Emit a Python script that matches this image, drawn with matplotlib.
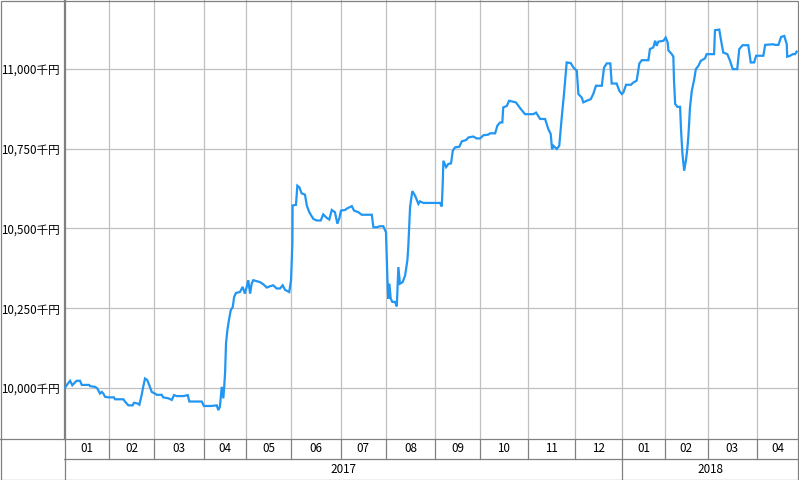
import matplotlib
matplotlib.use("Agg")
import matplotlib.pyplot as plt
import numpy as np
from matplotlib.patches import Rectangle

plt.rcParams['font.family'] = ['Noto Sans CJK JP', 'DejaVu Sans']

# trading days per month (x axis is in trading days)
month_labels = ['01', '02', '03', '04', '05', '06', '07', '08', '09', '10', '11', '12',
                '01', '02', '03', '04']
month_days = [20, 20, 22, 19, 20, 22, 20, 22, 20, 21, 21, 21, 19, 19, 22, 18.2]
year_labels = ['2017', '2018']
year_months = [12, 4]

yticks = [10000, 10250, 10500, 10750, 11000]

# balance (千円), x = trading-day index
day = [0.4, 1.5, 2.7, 3.7, 5.6, 7.1, 7.9, 11.2, 11.6, 13.8, 14.8, 16.0, 16.8, 17.5, 18.2,
       19.7, 22.2, 22.7, 26.4, 27.1, 28.6, 30.5, 31.1, 32.6, 33.5, 34.5, 35.2, 36.0, 37.0,
       37.9, 39.0, 40.4, 41.2, 43.4, 44.1, 46.4, 47.9, 48.9, 50.1, 53.0, 55.0, 55.7, 61.2,
       62.2, 65.6, 67.9, 68.6, 69.3, 70.1, 70.8, 71.2, 71.6, 72.0, 72.6, 73.3, 74.1, 75.0,
       75.6, 76.4, 78.2, 79.4, 80.4, 81.2, 81.9, 82.7, 83.4, 84.1, 87.1, 88.6, 90.1, 91.6,
       93.0, 94.5, 96.0, 97.2, 98.2, 100.1, 100.9, 101.5, 101.6, 103.1, 103.7, 104.6, 105.6,
       107.1, 107.9, 109.0, 110.8, 112.3, 114.1, 115.2, 116.8, 117.9, 119.0, 120.4, 121.5,
       122.4, 123.1, 124.9, 125.9, 127.9, 128.9, 130.8, 132.3, 136.8, 137.5, 139.2, 140.4,
       141.9, 143.1, 143.4, 143.7, 144.1, 144.6, 145.2, 145.9, 147.1, 147.9, 148.6, 149.3,
       150.5, 151.6, 152.6, 153.0, 153.8, 154.8, 156.0, 157.5, 158.2, 159.7, 167.1, 167.9,
       168.3, 168.6, 169.8, 170.8, 172.0, 172.8, 173.8, 175.7, 176.8, 178.7, 179.7, 181.9,
       183.4, 184.9, 186.4, 188.6, 189.3, 191.6, 192.6, 193.8, 194.8, 195.2, 196.8, 197.8,
       200.8, 202.7, 204.9, 208.6, 209.8, 211.6, 213.8, 215.2, 216.3, 216.9, 217.5, 219.0,
       220.1, 221.2, 222.2, 223.4, 225.2, 226.4, 227.9, 228.6, 230.1, 230.8, 232.3, 234.1,
       235.2, 236.4, 239.0, 240.0, 241.2, 242.8, 243.4, 245.6, 246.8, 247.9, 248.6, 249.8,
       251.9, 253.0, 254.5, 255.7, 256.8, 259.7, 260.4, 261.9, 262.7, 263.4, 264.1, 266.4,
       267.4, 268.3, 268.6, 270.1, 270.8, 271.1, 271.6, 272.6, 273.8, 274.2, 274.8, 275.6,
       276.4, 277.0, 277.5, 278.2, 279.0, 280.1, 280.8, 281.9, 283.0, 284.9, 285.6, 288.9,
       289.3, 291.2, 292.3, 293.0, 294.8, 296.0, 297.2, 299.2, 300.1, 301.6, 304.1, 305.2,
       306.7, 307.6, 310.8, 311.6, 315.2, 316.0, 317.5, 318.7, 320.1, 321.2, 321.4, 322.7,
       323.9, 324.9, 325.6]
balance = [10001, 10012, 10023, 10009, 10023, 10023, 10010, 10010, 10006, 10004, 9999, 9983,
           9988, 9983, 9973, 9971, 9971, 9965, 9965, 9958, 9946, 9946, 9954, 9952, 9948, 9978,
           10004, 10030, 10025, 10009, 9988, 9983, 9979, 9979, 9971, 9968, 9963, 9978, 9975,
           9975, 9978, 9958, 9958, 9944, 9944, 9946, 9931, 9942, 10004, 9968, 10004, 10051,
           10140, 10181, 10213, 10244, 10254, 10285, 10298, 10301, 10317, 10296, 10317, 10338,
           10296, 10327, 10338, 10332, 10325, 10315, 10319, 10322, 10312, 10312, 10322, 10308,
           10301, 10338, 10452, 10572, 10574, 10634, 10629, 10610, 10606, 10572, 10551, 10530,
           10525, 10525, 10544, 10533, 10528, 10558, 10551, 10515, 10533, 10556, 10558, 10563,
           10570, 10556, 10551, 10543, 10543, 10504, 10504, 10507, 10507, 10488, 10421, 10348,
           10280, 10327, 10280, 10270, 10270, 10256, 10379, 10327, 10332, 10353, 10400, 10442,
           10567, 10617, 10603, 10577, 10585, 10580, 10580, 10569, 10640, 10712, 10692, 10702,
           10704, 10744, 10754, 10756, 10773, 10777, 10785, 10788, 10782, 10782, 10792, 10794,
           10798, 10798, 10822, 10832, 10832, 10879, 10884, 10900, 10895, 10877, 10858, 10858,
           10863, 10843, 10843, 10812, 10796, 10748, 10759, 10749, 10759, 10848, 10921, 11020,
           11018, 11004, 10994, 10921, 10910, 10895, 10900, 10905, 10921, 10947, 10947, 11004,
           11017, 11017, 10954, 10954, 10931, 10921, 10926, 10950, 10950, 10957, 10963, 11017,
           11027, 11027, 11062, 11067, 11088, 11072, 11085, 11088, 11098, 11082, 11058, 11046,
           11038, 10963, 10890, 10881, 10881, 10812, 10738, 10681, 10713, 10749, 10791, 10879,
           10931, 10968, 10999, 11009, 11025, 11033, 11046, 11046, 11121, 11123, 11077, 11051,
           11046, 11025, 10999, 10999, 11062, 11074, 11074, 11020, 11020, 11041, 11041, 11075,
           11077, 11075, 11075, 11100, 11103, 11077, 11038, 11041, 11046, 11046, 11054]

W, H = 799, 480
grid_c = '#c0c0c0'
frame_c = '#808080'
line_c = '#2196f3'
lw_thin = 0.9
fs = 8.4

fig = plt.figure(figsize=(W / 100, H / 100), dpi=100, facecolor='white')

# main plot area
ax = fig.add_axes([64 / W, 41 / H, 734 / W, 439 / H])
bounds = np.concatenate([[0], np.cumsum(month_days)])
ax.set_xlim(0, bounds[-1])
ax.set_ylim(9840.6, 11215.6)

for b in bounds[1:-1]:
    ax.axvline(b, color=grid_c, lw=lw_thin, zorder=1)
for v in yticks:
    ax.axhline(v, color=grid_c, lw=lw_thin, zorder=1)

ax.plot(day, balance, color=line_c, lw=1.6, zorder=3, solid_joinstyle='miter')

ax.set_xticks([])
ax.set_yticks(yticks)
ax.set_yticklabels([f'{v:,}千円' for v in yticks], fontsize=fs)
ax.tick_params(axis='y', length=0, pad=3)
for s in ['top', 'right']:
    ax.spines[s].set_visible(False)
ax.spines['left'].set_color(frame_c)
ax.spines['bottom'].set_color(frame_c)
ax.spines['left'].set_linewidth(lw_thin)
ax.spines['bottom'].set_linewidth(lw_thin)

# month / year table below the plot
tab = fig.add_axes([64 / W, 0, 734 / W, 41 / H])
tab.set_xlim(0, bounds[-1])
tab.set_ylim(0, 41)
tab.axis('off')
tab.axhline(21.5, color=frame_c, lw=lw_thin)
for b in bounds[1:-1]:
    tab.plot([b, b], [21.5, 41], color=frame_c, lw=lw_thin)
for i, lab in enumerate(month_labels):
    tab.text((bounds[i] + bounds[i + 1]) / 2, 31.5, lab, ha='center', va='center',
             fontsize=fs)
ycum = np.concatenate([[0], np.cumsum(year_months)])
for i, lab in enumerate(year_labels):
    x0, x1 = bounds[ycum[i]], bounds[min(ycum[i + 1], len(month_days))]
    tab.text((x0 + x1) / 2, 10.5, lab, ha='center', va='center', fontsize=fs)
    if i > 0:
        tab.plot([x0, x0], [0, 21.5], color=frame_c, lw=lw_thin)

# left spine runs down through the table, bottom line runs out to the left edge
fig.add_artist(plt.Line2D([64.5 / W, 64.5 / W], [0, 1], color=frame_c, lw=lw_thin))
fig.add_artist(plt.Line2D([0, 64 / W], [41 / H, 41 / H], color=frame_c, lw=lw_thin))
# outer border
fig.add_artist(Rectangle((0.5 / W, 0.5 / H), 1 - 1.5 / W, 1 - 1.5 / H, fill=False,
                         edgecolor=frame_c, lw=lw_thin, transform=fig.transFigure))

fig.savefig('out.png', dpi=100)
